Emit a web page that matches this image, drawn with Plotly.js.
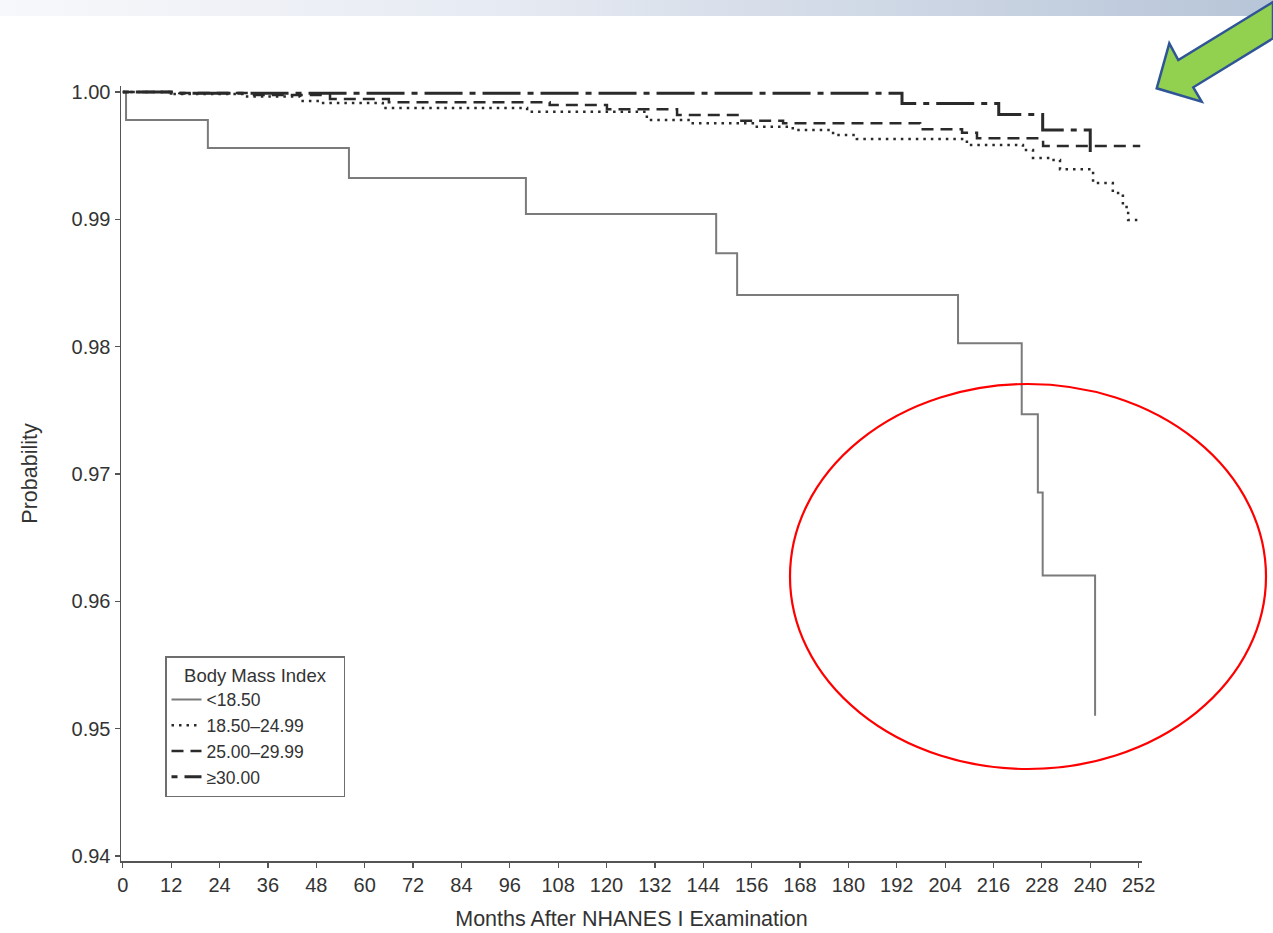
<!DOCTYPE html>
<html>
<head>
<meta charset="utf-8">
<script src="https://cdn.plot.ly/plotly-3.0.1.min.js"></script>
<style>
  html, body { margin: 0; padding: 0; }
  body {
    width: 1273px; height: 933px; overflow: hidden;
    background: linear-gradient(to right, #f7f8fb 0%, #e6eaf2 40%, #b7c5d8 100%) no-repeat top left / 100% 16px, #ffffff;
  }
  #chart { width: 1273px; height: 933px; }
</style>
</head>
<body>
<div id="chart"></div>
<script>
// ---- Data ----
const seriesNames = ["<18.50", "18.50\u201324.99", "25.00\u201329.99", "\u226530.00"];

const monthsUnder185 = [0, 0.8, 21.1, 56.1, 100.0, 147.2, 152.4, 207.2, 223.0, 227.0, 228.2, 241.2];
const probUnder185   = [1.0, 0.9978, 0.9956, 0.99324, 0.99041, 0.98733, 0.98406, 0.98027, 0.97469, 0.96855, 0.96203, 0.95102];

const monthsNormal = [0, 12, 30, 44, 48.9, 64.5, 100.3, 130.0, 140.7, 156.3, 166.2, 176.2, 182.1, 209.4, 223.3, 225.8, 230.0, 232.5, 240.7, 245.6, 248.1, 249.4, 252.4];
const probNormal   = [1.0, 0.99985, 0.99965, 0.9993, 0.99914, 0.99874, 0.99845, 0.9978, 0.99754, 0.99727, 0.99701, 0.99662, 0.99631, 0.99584, 0.99544, 0.99482, 0.99466, 0.99393, 0.99285, 0.99207, 0.99097, 0.98995, 0.98995];

const monthsOverweight = [0, 14, 31.6, 51.4, 66.0, 105.9, 120.1, 137.5, 153.1, 163.8, 197.8, 208.2, 211.9, 228.3, 252.4];
const probOverweight   = [1.0, 0.99992, 0.99976, 0.99945, 0.99919, 0.99898, 0.99864, 0.99819, 0.99775, 0.99754, 0.99707, 0.9968, 0.99636, 0.99576, 0.99576];

const monthsObese = [0, 12, 193.3, 217.3, 228.2, 240.0];
const probObese   = [1.0, 0.9999, 0.99909, 0.99823, 0.99701, 0.99528];

const xTickVals = [0, 12, 24, 36, 48, 60, 72, 84, 96, 108, 120, 132, 144, 156, 168, 180, 192, 204, 216, 228, 240, 252];
const yTickVals = [0.94, 0.95, 0.96, 0.97, 0.98, 0.99, 1.00];
const yTickText = ["0.94", "0.95", "0.96", "0.97", "0.98", "0.99", "1.00"];

const xTitle = "Months After NHANES I Examination";
const yTitle = "Probability";
const legendTitle = "Body Mass Index";

// ---- Plot geometry (pixels) ----
const W = 1273, H = 933;
const plotL = 121, plotR = 1142, plotT = 86, plotB = 861;
const px2x = p => (p - plotL) / (plotR - plotL);
const px2y = p => (plotB - p) / (plotB - plotT);

const FONT = "Liberation Sans, Arial, Helvetica, sans-serif";
const PAD = "\u00a0\u00a0\u00a0"; // widens the legend box around its centred title

const traces = [
  { x: monthsUnder185, y: probUnder185, name: seriesNames[0], mode: "lines",
    line: { shape: "hv", color: "#7b7b7b", width: 2 } },
  { x: monthsNormal, y: probNormal, name: seriesNames[1], mode: "lines",
    line: { shape: "hv", color: "#2a2a2a", width: 2.5, dash: "2.5px,5px" } },
  { x: monthsOverweight, y: probOverweight, name: seriesNames[2], mode: "lines",
    line: { shape: "hv", color: "#2a2a2a", width: 2.5, dash: "12px,7px" } },
  { x: monthsObese, y: probObese, name: seriesNames[3], mode: "lines",
    line: { shape: "hv", color: "#2a2a2a", width: 3, dash: "6px,7px,38px,7px" } }
];

// Decorations: red ellipse and green arrow (pixel positions -> paper)
const ell = { cx: 1028, cy: 576.5, rx: 238, ry: 192.5 };
const arrowPts = [[1273, 2], [1178.3, 60], [1169.3, 43.3], [1156.7, 88.3], [1201.7, 101.7], [1193.3, 87.3], [1273, 38.3]];
const arrowPath = "M" + arrowPts.map(p => px2x(p[0]).toFixed(5) + "," + px2y(p[1]).toFixed(5)).join(" L") + " Z";

const layout = {
  width: W, height: H, autosize: false,
  margin: { l: plotL, r: W - plotR, t: plotT, b: H - plotB, pad: 0 },
  paper_bgcolor: "rgba(0,0,0,0)",
  plot_bgcolor: "rgba(0,0,0,0)",
  font: { family: FONT, color: "#333333", size: 20 },
  showlegend: true,
  xaxis: {
    range: [-0.45, 252.84], tickmode: "array", tickvals: xTickVals,
    showline: true, linecolor: "#555555", linewidth: 1.5, mirror: false,
    ticks: "outside", ticklen: 5, tickwidth: 1.2, tickcolor: "#555555",
    showgrid: false, zeroline: false,
    tickfont: { family: FONT, size: 20, color: "#333333" },
    title: { text: xTitle, font: { family: FONT, size: 21.5, color: "#333333" }, standoff: 16 }
  },
  yaxis: {
    range: [0.93961, 1.00047], tickmode: "array", tickvals: yTickVals, ticktext: yTickText,
    showline: true, linecolor: "#555555", linewidth: 1.5, mirror: false,
    ticks: "outside", ticklen: 5, tickwidth: 1.2, tickcolor: "#555555",
    showgrid: false, zeroline: false,
    tickfont: { family: FONT, size: 20, color: "#333333" },
    title: { text: yTitle, font: { family: FONT, size: 21.5, color: "#333333" }, standoff: 28 }
  },
  legend: {
    x: px2x(165), y: px2y(656), xanchor: "left", yanchor: "top",
    bgcolor: "#ffffff", bordercolor: "#6e6e6e", borderwidth: 1.5,
    font: { family: FONT, size: 17.5, color: "#333333" },
    title: { text: PAD + legendTitle + PAD, side: "top center", font: { family: FONT, size: 18.5, color: "#333333" } },
    tracegroupgap: 0, itemwidth: 30
  },
  shapes: [
    { type: "circle", xref: "paper", yref: "paper",
      x0: px2x(ell.cx - ell.rx), x1: px2x(ell.cx + ell.rx),
      y0: px2y(ell.cy + ell.ry), y1: px2y(ell.cy - ell.ry),
      line: { color: "#ff0000", width: 2.2 }, fillcolor: "rgba(0,0,0,0)" },
    { type: "path", xref: "paper", yref: "paper", path: arrowPath,
      fillcolor: "#92d050", line: { color: "#2f5597", width: 2.5 } }
  ]
};

Plotly.newPlot("chart", traces, layout, { displayModeBar: false, staticPlot: true });
</script>
</body>
</html>
